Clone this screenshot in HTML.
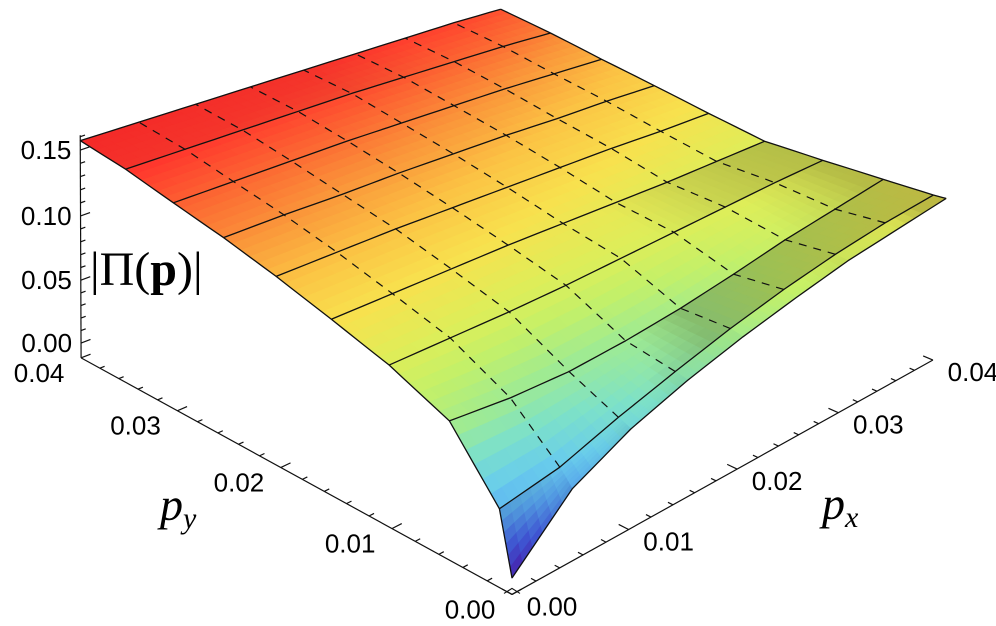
<!DOCTYPE html>
<html>
<head>
<meta charset="utf-8">
<style>
  html,body{margin:0;padding:0;background:#fff;}
  svg{display:block;}
  .tick-label{font-family:"Liberation Sans",sans-serif;font-size:26px;fill:#000;}
  .title{font-family:"Liberation Serif",serif;fill:#000;}
</style>
</head>
<body>
<svg id="chart" width="996" height="626" viewBox="0 0 996 626" xmlns="http://www.w3.org/2000/svg">
  <rect x="0" y="0" width="996" height="626" fill="#ffffff"/>
  <g id="surface"></g>
  <g id="mesh"></g>
  <g id="axes"></g>
  <text class="title" x="90" y="285" font-size="48">|Π(<tspan font-weight="bold">p</tspan>)|</text>
  <text class="title" x="160" y="520" font-size="46" font-style="italic">p<tspan font-size="30" dy="8">y</tspan></text>
  <text class="title" x="822" y="519" font-size="46" font-style="italic">p<tspan font-size="30" dy="8">x</tspan></text>
</svg>
<script>
// ---- data ----
const pxVals = [0, 0.005, 0.01, 0.015, 0.02, 0.025, 0.03, 0.035, 0.04];
const pyVals = [0, 0.001, 0.005, 0.01, 0.015, 0.02, 0.025, 0.03, 0.035, 0.04];
const zRow0    = [0.000, 0.041, 0.062, 0.076, 0.087, 0.096, 0.104, 0.109, 0.114];
const zRow001  = [0.045, 0.052, 0.066, 0.078, 0.089, 0.098, 0.105, 0.110, 0.113];
const zRow005  = [0.089, 0.084, 0.082, 0.084, 0.088, 0.094, 0.101, 0.106, 0.111];
const zRow010  = [0.107, 0.106, 0.105, 0.105, 0.106, 0.107, 0.108, 0.109, 0.109];
const zRow015  = [0.119, 0.118, 0.117, 0.116, 0.114, 0.112, 0.110, 0.109, 0.108];
const zRow020  = [0.130, 0.129, 0.128, 0.126, 0.124, 0.122, 0.120, 0.117, 0.115];
const zRow025  = [0.139, 0.138, 0.136, 0.135, 0.133, 0.131, 0.128, 0.126, 0.123];
const zRow030  = [0.146, 0.145, 0.144, 0.143, 0.141, 0.139, 0.137, 0.134, 0.131];
const zRow035  = [0.153, 0.152, 0.151, 0.150, 0.149, 0.147, 0.145, 0.143, 0.140];
const zRow040  = [0.157, 0.156, 0.155, 0.154, 0.153, 0.152, 0.151, 0.150, 0.148];
const zGrid = [zRow0, zRow001, zRow005, zRow010, zRow015, zRow020, zRow025, zRow030, zRow035, zRow040];
const zTicks = [0, 0.05, 0.10, 0.15];
const zTickLabels = ['0.00', '0.05', '0.10', '0.15'];
const pTicks = [0, 0.01, 0.02, 0.03, 0.04];
const pTickLabels = ['0.00', '0.01', '0.02', '0.03', '0.04'];

// ---- projection (axis functions) ----
const PMAX = 0.04, ZS = 0.15, ZMIN = -0.012, ZMAX = 0.161;
function proj(px, py, z) {
  const X = px / PMAX, Y = py / PMAX, Z = z / ZS;
  const w = 1 + 0.15 * X + 0.16 * Y - 0.0415 * Z;
  const xs = 512 + 562.3 * X - 418 * Y - 21.2 * Z + 17 * Y * Y * Z * (1 - X);
  const ys = 578 - 181.2 * X - 180.1 * Y - 230.1 * Z + 22 * X * Y * Y;
  return [xs / w, ys / w, w];
}
const NS = 'http://www.w3.org/2000/svg';
function mk(tag, attrs, parent) {
  const e = document.createElementNS(NS, tag);
  for (const k in attrs) e.setAttribute(k, attrs[k]);
  parent.appendChild(e);
  return e;
}
const stops = [
  [0.000, [80, 30, 190]], [0.020, [70, 95, 235]], [0.040, [90, 170, 245]],
  [0.055, [105, 205, 235]], [0.070, [125, 225, 200]], [0.085, [160, 235, 145]],
  [0.097, [195, 240, 105]], [0.107, [220, 238, 90]], [0.118, [248, 225, 78]],
  [0.128, [251, 195, 68]], [0.137, [250, 150, 58]], [0.145, [252, 100, 50]],
  [0.152, [255, 55, 45]], [0.160, [255, 35, 40]]];
function cmap(z) {
  if (z <= stops[0][0]) return stops[0][1];
  for (let k = 1; k < stops.length; k++) {
    if (z <= stops[k][0]) {
      const t = (z - stops[k-1][0]) / (stops[k][0] - stops[k-1][0]);
      return stops[k-1][1].map((c, m) => c + t * (stops[k][1][m] - c));
    }
  }
  return stops[stops.length-1][1];
}
function zBil(i, j, u, v) {
  const a = zGrid[j][i], b = zGrid[j][i+1], c = zGrid[j+1][i], d = zGrid[j+1][i+1];
  return a*(1-u)*(1-v) + b*u*(1-v) + c*(1-u)*v + d*u*v;
}

// ---- surface ----
const surf = document.getElementById('surface');
const polys = [];
const L = [0, -1, 1]; const Ln = Math.hypot(...L);
for (let j = 0; j < pyVals.length - 1; j++) {
  for (let i = 0; i < pxVals.length - 1; i++) {
    const SU = 6, SV = 6;
    const dpx = pxVals[i+1] - pxVals[i], dpy = pyVals[j+1] - pyVals[j];
    for (let a = 0; a < SU; a++) for (let b = 0; b < SV; b++) {
      const u0 = a / SU, u1 = (a+1) / SU, v0 = b / SV, v1 = (b+1) / SV;
      const corners = [[u0, v0], [u1, v0], [u1, v1], [u0, v1]].map(([u, v]) =>
        proj(pxVals[i] + u * dpx, pyVals[j] + v * dpy, zBil(i, j, u, v)));
      const uc = (u0 + u1) / 2, vc = (v0 + v1) / 2;
      const zc = zBil(i, j, uc, vc);
      const dzdu = (zBil(i, j, u1, vc) - zBil(i, j, u0, vc)) / (u1 - u0);
      const dzdv = (zBil(i, j, uc, v1) - zBil(i, j, uc, v0)) / (v1 - v0);
      const gx = (dzdu / ZS) / (dpx / PMAX), gy = (dzdv / ZS) / (dpy / PMAX);
      const nn = Math.hypot(gx, gy, 1);
      const bdot = (-gx * L[0] - gy * L[1] + L[2]) / (nn * Ln);
      let f = 0.84 + 0.9 * (bdot - 0.707);
      f = Math.max(0.8, Math.min(1.0, f));
      const col = cmap(zc).map(c => Math.max(0, Math.min(255, Math.round(c * f))));
      const depth = corners.reduce((s, p) => s + p[2], 0) / 4;
      polys.push({corners, col, depth});
    }
  }
}
polys.sort((p, q) => q.depth - p.depth);
for (const p of polys) {
  const d = 'M' + p.corners.map(c => c[0].toFixed(2) + ',' + c[1].toFixed(2)).join('L') + 'Z';
  const c = 'rgb(' + p.col.join(',') + ')';
  const el = mk('path', {d: d, fill: c, stroke: c, 'stroke-width': 0.7}, surf);
  
  
}

// ---- mesh ----
const mesh = document.getElementById('mesh');
function linePts(pts) { return pts.map(p => p[0].toFixed(2) + ',' + p[1].toFixed(2)).join(' '); }
for (let j = 0; j < pyVals.length; j++) {
  const pts = [];
  for (let i = 0; i < pxVals.length - 1; i++) {
    for (let s = 0; s < 4; s++) {
      const u = s / 4, jj = Math.min(j, pyVals.length - 2), v = (j === pyVals.length - 1) ? 1 : 0;
      pts.push(proj(pxVals[i] + u * (pxVals[i+1] - pxVals[i]), pyVals[j], zBil(i, jj, u, v)));
    }
  }
  pts.push(proj(pxVals[pxVals.length-1], pyVals[j], zGrid[j][pxVals.length-1]));
  const el = mk('polyline', {points: linePts(pts), fill: 'none', stroke: '#111', 'stroke-width': 1.3, 'stroke-linejoin': 'round'}, mesh);
  
  
}
for (let i = 0; i < pxVals.length; i++) {
  const edge = (i === 0 || i === pxVals.length - 1);
  const pts = [];
  for (let j = edge ? 0 : 1; j < pyVals.length - 1; j++) {
    for (let s = 0; s < 4; s++) {
      const v = s / 4, ii = Math.min(i, pxVals.length - 2), u = (i === pxVals.length - 1) ? 1 : 0;
      pts.push(proj(pxVals[i], pyVals[j] + v * (pyVals[j+1] - pyVals[j]), zBil(ii, j, u, v)));
    }
  }
  pts.push(proj(pxVals[i], pyVals[pyVals.length-1], zGrid[pyVals.length-1][i]));
  const attrs = {points: linePts(pts), fill: 'none', stroke: '#111', 'stroke-width': edge ? 1.3 : 1.2};
  if (!edge) attrs['stroke-dasharray'] = '8 7';
  const el = mk('polyline', attrs, mesh);
  
  
}

// ---- axes ----
const axes = document.getElementById('axes');
function seg(p, q, name) {
  const el = mk('line', {x1: p[0], y1: p[1], x2: q[0], y2: q[1], stroke: '#111', 'stroke-width': 1.2}, axes);
  
  
}
seg(proj(0, 0, ZMIN), proj(0, PMAX, ZMIN), 'py-axis-line');
seg(proj(0, 0, ZMIN), proj(PMAX, 0, ZMIN), 'px-axis-line');
seg(proj(0, PMAX, ZMIN), proj(0, PMAX, ZMAX), 'z-axis-line');
(function(){
  const o = proj(0, 0, ZMIN);
  const el = mk('path', {d: `M${o[0]-8},${o[1]-1}L${o[0]},${o[1]-6}L${o[0]+8},${o[1]-1}`, fill: 'none', stroke: '#111', 'stroke-width': 1.1}, axes);
  
  
})();
for (let k = 0; k <= 20; k++) {
  const v = k * 0.002, major = (k % 5 === 0);
  const len = major ? 0.0008 : 0.0004;
  seg(proj(0, v, ZMIN), proj(len, v, ZMIN), 'py-tick');
  seg(proj(v, 0, ZMIN), proj(v, len, ZMIN), 'px-tick');
}
for (let k = 0; k <= 16; k++) {
  const z = k * 0.01, major = (k % 5 === 0);
  seg(proj(0, PMAX, z), proj(major ? 0.0008 : 0.0004, PMAX, z), 'z-tick');
}
function label(x, y, txt, anchor, name) {
  const el = mk('text', {x: x, y: y, 'text-anchor': anchor, 'dominant-baseline': 'central', class: 'tick-label'}, axes);
  el.textContent = txt;
  
  
}
pTicks.forEach((v, k) => {
  const a = proj(0, v, ZMIN);
  label(a[0] - 42, a[1] + 15, pTickLabels[k], 'middle', 'py-tick-label');
  const b = proj(v, 0, ZMIN);
  label(b[0] + 40, b[1] + 12, pTickLabels[k], 'middle', 'px-tick-label');
});
zTicks.forEach((z, k) => {
  const a = proj(0, PMAX, z);
  label(a[0] - 9, a[1], zTickLabels[k], 'end', 'z-tick-label');
});
</script>
</body>
</html>
